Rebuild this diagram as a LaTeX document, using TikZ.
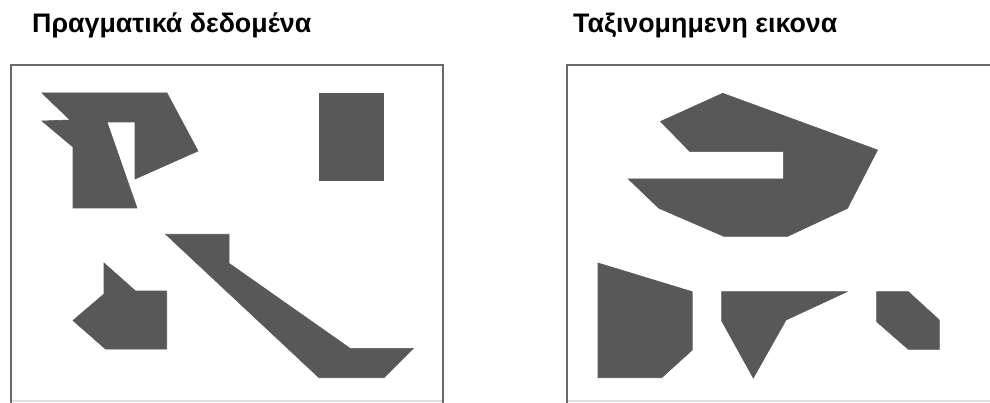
\documentclass[tikz,border=0pt]{standalone}
\usepackage{fontspec}
\setmainfont{Liberation Sans}
\begin{document}
\begin{tikzpicture}[x=1pt,y=-1pt,
  blob/.style={fill=shapegray,draw=shapegray,line width=0.6pt,line join=miter},
  frame/.style={draw=framegray,line width=2pt},
  faint/.style={draw=black!12,line width=1.2pt},
  title/.style={inner sep=0pt,anchor=base west,font=\fontsize{26.8}{30}\selectfont\bfseries}]
\definecolor{shapegray}{HTML}{585858}
\definecolor{framegray}{HTML}{6A6A6A}
\useasboundingbox (0,0) rectangle (990,403);
% titles
\node[title] (t1) at (32,33) {Πραγματικά δεδομένα};
\node[title] (t2) at (573,33) {Ταξινομημενη εικονα};
% left frame
\draw[faint] (11,401) -- (443,401);
\draw[frame] (11,403) -- (11,65) -- (443,65) -- (443,403);
% right frame
\draw[faint] (567,401) -- (990,401);
\draw[frame] (567,403) -- (567,65) -- (990,65);
% left shapes
\fill[blob] (42,93) -- (167,93) -- (198,151) -- (135,179) -- (135,122) -- (107,122)
  -- (137,208) -- (73,208) -- (73,147) -- (42,121) -- (70,120) -- cycle;
\fill[blob] (319,93) rectangle (383,180);
\fill[blob] (104,263) -- (135.5,291) -- (166.7,291) -- (166.7,349) -- (105.5,349)
  -- (73,320.5) -- (104,294) -- cycle;
\fill[blob] (165.7,234.3) -- (229,234.3) -- (229,263.3) -- (350,348.3) -- (413.3,348.3)
  -- (384,377.7) -- (319,377.7) -- cycle;
% right shapes
\fill[blob] (722.7,93.3) -- (660.5,121.5) -- (690,151.7) -- (783.3,151.7) -- (783.3,179)
  -- (628.3,179) -- (659,208.3) -- (724,236.4) -- (787.5,236.4) -- (847.5,208.3)
  -- (877.5,150) -- cycle;
\fill[blob] (598,263) -- (692.2,291.7) -- (692.2,350) -- (661.7,377.7) -- (598,377.7) -- cycle;
\fill[blob] (721.7,291.7) -- (847,291.7) -- (786,320) -- (753.3,378) -- (721.7,321) -- cycle;
\fill[blob] (876.7,291.7) -- (908.3,291.7) -- (939.3,320) -- (939.3,349.3) -- (908.3,349.3)
  -- (876.7,321.7) -- cycle;
\end{tikzpicture}
\end{document}
